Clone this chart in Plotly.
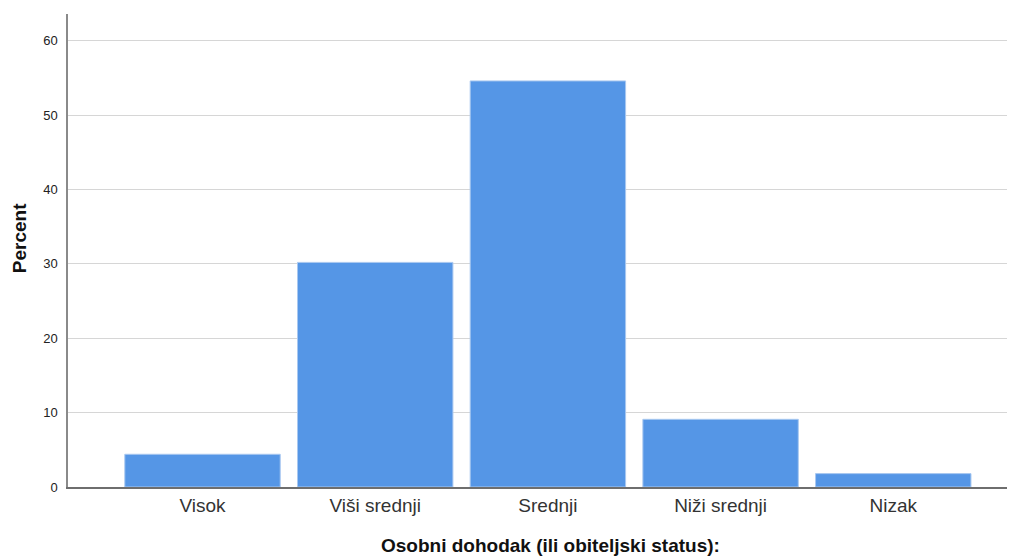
import plotly.graph_objects as go

categories = ["Visok", "Viši srednji", "Srednji", "Niži srednji", "Nizak"]
percent = [4.4, 30.2, 54.6, 9.1, 1.8]
y_ticks = [0, 10, 20, 30, 40, 50, 60]

fig = go.Figure(
    go.Bar(
        x=list(range(len(categories))),
        y=percent,
        marker=dict(color="#5596e6", line=dict(color="#a9c8f0", width=1)),
        hoverinfo="skip",
    )
)

fig.update_layout(
    width=1007,
    height=550,
    margin=dict(l=60, r=5, t=6, b=71),
    paper_bgcolor="white",
    plot_bgcolor="white",
    bargap=0.1,
    showlegend=False,
    font=dict(family="Liberation Sans, Arial, sans-serif", color="#222"),
    annotations=[
        dict(
            text="<b>Percent</b>", xref="paper", yref="paper",
            x=-0.052, y=0.526, xanchor="center", yanchor="middle",
            textangle=-90, showarrow=False,
            font=dict(size=19, color="#111"),
        ),
        dict(
            text="<b>Osobni dohodak (ili obiteljski status):</b>", xref="paper", yref="paper",
            x=0.5117, y=-0.1247, xanchor="center", yanchor="middle",
            showarrow=False,
            font=dict(size=19, color="#111"),
        ),
    ],
)

fig.update_xaxes(
    tickmode="array",
    tickvals=list(range(len(categories))),
    ticktext=categories,
    range=[-0.779, 4.676],
    showgrid=False,
    showline=True,
    linecolor="#6e6e6e",
    linewidth=1.5,
    ticks="",
    tickfont=dict(size=19, color="#333"),
    zeroline=False,
)

fig.update_yaxes(
    range=[0, 63.6],
    tickmode="array",
    tickvals=y_ticks,
    ticks="",
    ticklabelstandoff=6,
    showgrid=True,
    gridcolor="#d6d6d6",
    gridwidth=1.2,
    showline=True,
    linecolor="#8a8a8a",
    linewidth=1.5,
    zeroline=False,
    tickfont=dict(size=13, color="#222"),
)

fig.write_html("out.html")
